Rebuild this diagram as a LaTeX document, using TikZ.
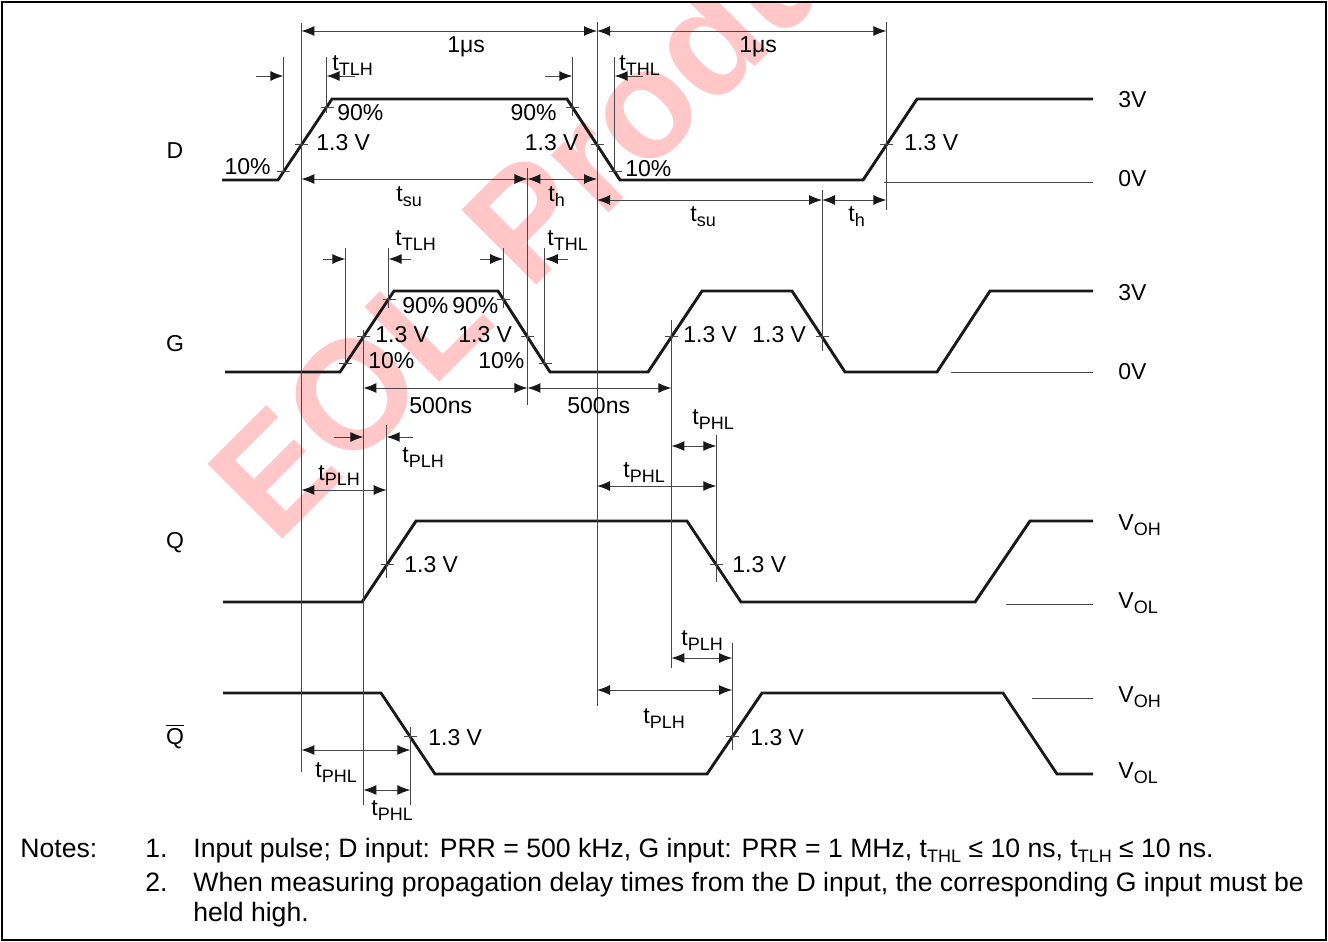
\documentclass[tikz,border=0pt]{standalone}
\usepackage{fontspec}
\setmainfont{Liberation Sans}
\usetikzlibrary{arrows.meta,calc}

\newcommand{\tsb}[1]{t\raisebox{-2.6pt}{\fontsize{9}{10}\selectfont #1}}
\newcommand{\Qbar}{$\overline{\mbox{Q}}$}

\tikzset{
  wave/.style={line width=1.45pt, black!90},
  guide/.style={line width=0.5pt, black!72},
  hmark/.pic={\draw[guide] (-6,0) -- (7,0);}
}

\begin{document}
\begin{tikzpicture}[x=0.5pt, y=-0.5pt, >={Latex[length=6.5pt, width=5pt, color=black!90]},
    font=\fontsize{11.5}{13}\selectfont, every node/.style={inner sep=0pt}]

        \useasboundingbox (0,0) rectangle (1328,942);

        % Watermark
        \begin{scope}
            \clip (2,2) rectangle (1326,940);
            \node at (275,547) [rotate=45, anchor=base west, text=red!22, font=\bfseries\fontsize{77}{77}\selectfont] (mark) {EOL Product};
        \end{scope}

        % Frame
        \draw[line width=1pt] (2,2) rectangle (1326,940);

        % Corners of the waveforms
        \coordinate (D0) at (222,180);  \coordinate (Dr0) at (278,180); \coordinate (Dr1) at (332,99);
        \coordinate (Df0) at (567,99);  \coordinate (Df1) at (620,180); \coordinate (De0) at (863,180);
        \coordinate (De1) at (917,99);  \coordinate (D9) at (1093,99);
        \coordinate (G0) at (225,372);  \coordinate (Gr0) at (340,372); \coordinate (Gr1) at (394,291);
        \coordinate (Gf0) at (498,291); \coordinate (Gf1) at (550,372); \coordinate (Gs0) at (648,372);
        \coordinate (Gs1) at (702,291); \coordinate (Gt0) at (792,291); \coordinate (Gt1) at (845,372);
        \coordinate (Gu0) at (937,372); \coordinate (Gu1) at (990,291); \coordinate (G9) at (1093,291);
        \coordinate (Q0) at (223,602);  \coordinate (Qr0) at (362,602); \coordinate (Qr1) at (416,521);
        \coordinate (Qf0) at (687,521); \coordinate (Qf1) at (741,602); \coordinate (Qs0) at (975,602);
        \coordinate (Qs1) at (1030,521); \coordinate (Q9) at (1093,521);
        \coordinate (N0) at (223,693);  \coordinate (Nf0) at (381,693); \coordinate (Nf1) at (435,774);
        \coordinate (Nr0) at (707,774); \coordinate (Nr1) at (762,693); \coordinate (Ns0) at (1003,693);
        \coordinate (Ns1) at (1057,774); \coordinate (N9) at (1093,774);

        % Threshold points
        \coordinate (Dr10) at ($(Dr0)!0.1!(Dr1)$);   \coordinate (Dr13) at ($(Dr0)!0.433!(Dr1)$);
        \coordinate (Dr90) at ($(Dr0)!0.9!(Dr1)$);   \coordinate (Df90) at ($(Df1)!0.9!(Df0)$);
        \coordinate (Df13) at ($(Df1)!0.433!(Df0)$); \coordinate (Df10) at ($(Df1)!0.1!(Df0)$);
        \coordinate (De13) at ($(De0)!0.433!(De1)$);
        \coordinate (Gr10) at ($(Gr0)!0.1!(Gr1)$);   \coordinate (Gr13) at ($(Gr0)!0.433!(Gr1)$);
        \coordinate (Gr90) at ($(Gr0)!0.9!(Gr1)$);   \coordinate (Gf90) at ($(Gf1)!0.9!(Gf0)$);
        \coordinate (Gf13) at ($(Gf1)!0.433!(Gf0)$); \coordinate (Gf10) at ($(Gf1)!0.1!(Gf0)$);
        \coordinate (Gs13) at ($(Gs0)!0.433!(Gs1)$); \coordinate (Gt13) at ($(Gt1)!0.433!(Gt0)$);
        \coordinate (Qr13) at ($(Qr0)!0.457!(Qr1)$); \coordinate (Qf13) at ($(Qf1)!0.457!(Qf0)$);
        \coordinate (Nf13) at ($(Nf1)!0.457!(Nf0)$); \coordinate (Nr13) at ($(Nr0)!0.457!(Nr1)$);

        % Waveforms
        \draw[wave] (D0) -- (Dr0) -- (Dr1) -- (Df0) -- (Df1) -- (De0) -- (De1) -- (D9);
        \draw[wave] (G0) -- (Gr0) -- (Gr1) -- (Gf0) -- (Gf1) -- (Gs0) -- (Gs1) -- (Gt0) -- (Gt1) -- (Gu0) -- (Gu1) -- (G9);
        \draw[wave] (Q0) -- (Qr0) -- (Qr1) -- (Qf0) -- (Qf1) -- (Qs0) -- (Qs1) -- (Q9);
        \draw[wave] (N0) -- (Nf0) -- (Nf1) -- (Nr0) -- (Nr1) -- (Ns0) -- (Ns1) -- (N9);

        % Reference levels
        \draw[guide] (884,182) -- (1093,182);
        \draw[guide] (951,372) -- (1093,372);
        \draw[guide] (1006,604) -- (1093,604);
        \draw[guide] (1032,698) -- (1093,698);

        % Marks on the edges
        \foreach \p in {Dr10,Dr13,Dr90,Df90,Df13,Df10,De13,Gr10,Gr13,Gr90,Gf90,Gf13,Gf10,Gs13,Gt13,Qr13,Qf13,Nf13,Nr13}
            \pic at (\p) {hmark};

        % Vertical guides
        \draw[guide] (Dr10 |- 0,57) -- (Dr10);
        \draw[guide] (Dr90 |- 0,57) -- (Dr90 |- 0,113);
        \draw[guide] (Dr13 |- 0,23) -- (Dr13 |- 0,772);
        \draw[guide] (Df90 |- 0,57) -- (Df90 |- 0,116);
        \draw[guide] (Df13 |- 0,22) -- (Df13 |- 0,706);
        \draw[guide] (Df10 |- 0,57) -- (Df10);
        \draw[guide] (De13 |- 0,22) -- (De13 |- 0,210);
        \draw[guide] (Gf13 |- 0,168) -- (Gf13 |- 0,405);
        \draw[guide] (Gt13 |- 0,190) -- (Gt13 |- 0,351);
        \draw[guide] (Gr10 |- 0,248) -- (Gr10);
        \draw[guide] (Gr90 |- 0,248) -- (Gr90 |- 0,308);
        \draw[guide] (Gf90 |- 0,248) -- (Gf90 |- 0,308);
        \draw[guide] (Gf10 |- 0,248) -- (Gf10);
        \draw[guide] (Gr13 |- 0,330) -- (Gr13 |- 0,805);
        \draw[guide] (Gs13 |- 0,320) -- (Gs13 |- 0,668);
        \draw[guide] (Qr13 |- 0,425) -- (Qr13 |- 0,578);
        \draw[guide] (Qf13 |- 0,435) -- (Qf13 |- 0,582);
        \draw[guide] (Nf13 |- 0,727) -- (Nf13 |- 0,805);
        \draw[guide] (Nr13 |- 0,643) -- (Nr13 |- 0,750);

        % Arrows
        \draw[guide,<-] (Dr10 |- 0,76) -- ++(-27,0);
        \draw[guide,<-] (Dr90 |- 0,76) -- ++(28,0);
        \draw[guide,<-] (Df90 |- 0,76) -- ++(-27,0);
        \draw[guide,<-] (Df10 |- 0,76) -- ++(28,0);
        \draw[guide,<->] (Dr13 |- 0,31) -- (Df13 |- 0,31);
        \draw[guide,<->] (Df13 |- 0,31) -- (De13 |- 0,31);
        \draw[guide,<->] (Dr13 |- 0,179) -- (Gf13 |- 0,179);
        \draw[guide,<->] (Gf13 |- 0,179) -- (Df13 |- 0,179);
        \draw[guide,<->] (Df13 |- 0,200) -- (Gt13 |- 0,200);
        \draw[guide,<->] (Gt13 |- 0,200) -- (De13 |- 0,200);
        \draw[guide,<-] (Gr10 |- 0,259) -- ++(-22,0);
        \draw[guide,<-] (Gr90 |- 0,259) -- ++(22,0);
        \draw[guide,<-] (Gf90 |- 0,259) -- ++(-23,0);
        \draw[guide,<-] (Gf10 |- 0,259) -- ++(23,0);
        \draw[guide,<->] (Gr13 |- 0,388) -- (Gf13 |- 0,388);
        \draw[guide,<->] (Gf13 |- 0,388) -- (Gs13 |- 0,388);
        \draw[guide,<-] (Gr13 |- 0,437) -- ++(-29,0);
        \draw[guide,<-] (Qr13 |- 0,437) -- ++(26,0);
        \draw[guide,<->] (Dr13 |- 0,490) -- (Qr13 |- 0,490);
        \draw[guide,<->] (Df13 |- 0,486) -- (Qf13 |- 0,486);
        \draw[guide,<->] (Gs13 |- 0,446) -- (Qf13 |- 0,446);
        \draw[guide,<->] (Dr13 |- 0,750) -- (Nf13 |- 0,750);
        \draw[guide,<->] (Gr13 |- 0,790) -- (Nf13 |- 0,790);
        \draw[guide,<->] (Gs13 |- 0,658) -- (Nr13 |- 0,658);
        \draw[guide,<->] (Df13 |- 0,690) -- (Nr13 |- 0,690);

        % Signal names
        \node at (175,158) [anchor=base] (nameD) {D};
        \node at (175,351) [anchor=base] (nameG) {G};
        \node at (175,548) [anchor=base] (nameQ) {Q};
        \node at (175,744) [anchor=base] (nameN) {\Qbar};

        % Levels
        \node at (1118,107) [anchor=base west] (lvD1) {3V};
        \node at (1118,186) [anchor=base west] (lvD0) {0V};
        \node at (1118,300) [anchor=base west] (lvG1) {3V};
        \node at (1118,379) [anchor=base west] (lvG0) {0V};
        \node at (1118,530) [anchor=base west] (lvQ1) {V\raisebox{-2.6pt}{\fontsize{9}{10}\selectfont OH}};
        \node at (1118,608) [anchor=base west] (lvQ0) {V\raisebox{-2.6pt}{\fontsize{9}{10}\selectfont OL}};
        \node at (1118,702) [anchor=base west] (lvN1) {V\raisebox{-2.6pt}{\fontsize{9}{10}\selectfont OH}};
        \node at (1118,778) [anchor=base west] (lvN0) {V\raisebox{-2.6pt}{\fontsize{9}{10}\selectfont OL}};

        % Labels on D
        \node at (447,52) [anchor=base west] (usA) {1μs};
        \node at (739,52) [anchor=base west] (usB) {1μs};
        \node at (332,70) [anchor=base west] (tlhD) {\tsb{TLH}};
        \node at (619,70) [anchor=base west] (thlD) {\tsb{THL}};
        \node at (337,120) [anchor=base west] (pDr90) {90\%};
        \node at (316,150) [anchor=base west] (vDr) {1.3 V};
        \node at (271,174) [anchor=base east] (pDr10) {10\%};
        \node at (557,120) [anchor=base east] (pDf90) {90\%};
        \node at (579,150) [anchor=base east] (vDf) {1.3 V};
        \node at (625,176) [anchor=base west] (pDf10) {10\%};
        \node at (904,150) [anchor=base west] (vDe) {1.3 V};
        \node at (396,201) [anchor=base west] (suA) {\tsb{su}};
        \node at (548,201) [anchor=base west] (hA) {\tsb{h}};
        \node at (690,221) [anchor=base west] (suB) {\tsb{su}};
        \node at (848,221) [anchor=base west] (hB) {\tsb{h}};

        % Labels on G
        \node at (395,245) [anchor=base west] (tlhG) {\tsb{TLH}};
        \node at (547,245) [anchor=base west] (thlG) {\tsb{THL}};
        \node at (402,313) [anchor=base west] (pGr90) {90\%};
        \node at (452,313) [anchor=base west] (pGf90) {90\%};
        \node at (375,342) [anchor=base west] (vGr) {1.3 V};
        \node at (458,342) [anchor=base west] (vGf) {1.3 V};
        \node at (368,368) [anchor=base west] (pGr10) {10\%};
        \node at (478,368) [anchor=base west] (pGf10) {10\%};
        \node at (409,413) [anchor=base west] (nsA) {500ns};
        \node at (567,413) [anchor=base west] (nsB) {500ns};
        \node at (683,342) [anchor=base west] (vGs) {1.3 V};
        \node at (752,342) [anchor=base west] (vGt) {1.3 V};

        % Labels on Q
        \node at (692,424) [anchor=base west] (phlQs) {\tsb{PHL}};
        \node at (402,462) [anchor=base west] (plhQs) {\tsb{PLH}};
        \node at (318,480) [anchor=base west] (plhQl) {\tsb{PLH}};
        \node at (623,477) [anchor=base west] (phlQl) {\tsb{PHL}};
        \node at (404,572) [anchor=base west] (vQr) {1.3 V};
        \node at (732,572) [anchor=base west] (vQf) {1.3 V};

        % Labels on Q bar
        \node at (428,745) [anchor=base west] (vNf) {1.3 V};
        \node at (750,745) [anchor=base west] (vNr) {1.3 V};
        \node at (315,777) [anchor=base west] (phlNl) {\tsb{PHL}};
        \node at (371,815) [anchor=base west] (phlNs) {\tsb{PHL}};
        \node at (681,645) [anchor=base west] (plhNs) {\tsb{PLH}};
        \node at (643,723) [anchor=base west] (plhNl) {\tsb{PLH}};

        % Notes
        \begin{scope}[font=\fontsize{13.3}{15}\selectfont]
            \node at (20,857) [anchor=base west] (notes) {Notes:};
            \node at (145,857) [anchor=base west] (noteA) {1.};
            \node at (193,857) [anchor=base west] (noteAt) {Input pulse; D input: PRR = 500 kHz, G input: PRR = 1 MHz, \tsb{THL} ≤ 10 ns, \tsb{TLH} ≤ 10 ns.};
            \node at (145,891) [anchor=base west] (noteB) {2.};
            \node at (193,891) [anchor=base west] (noteBt) {When measuring propagation delay times from the D input, the corresponding G input must be};
            \node at (193,921) [anchor=base west] (noteBu) {held high.};
        \end{scope}

    \end{tikzpicture}
\end{document}
